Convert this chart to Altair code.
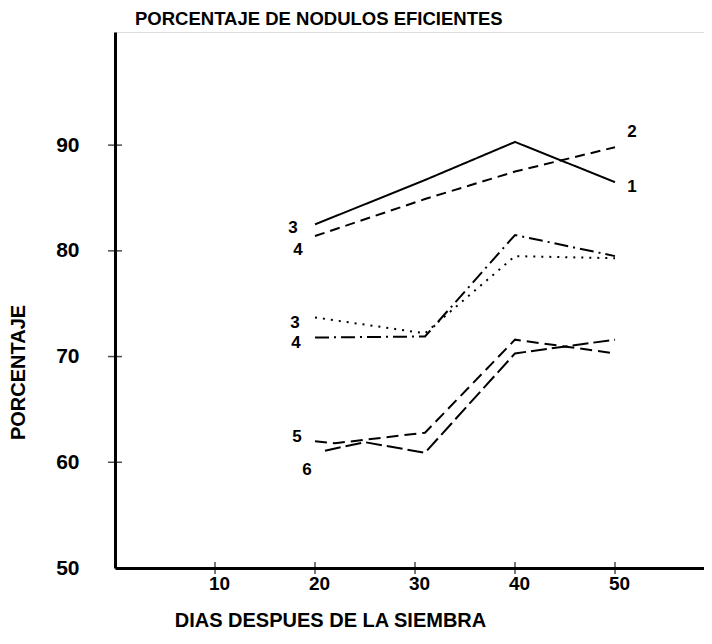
import altair as alt
import pandas as pd

# ---- data ----
series_names = ["s1", "s2", "s3", "s4", "s5", "s6"]
days_1 = [20, 31, 40, 50]
vals_1 = [82.5, 86.7, 90.3, 86.5]
days_2 = [20, 31, 40, 50]
vals_2 = [81.4, 84.9, 87.5, 89.8]
days_3 = [20, 31, 40, 50]
vals_3 = [73.7, 72.2, 79.5, 79.3]
days_4 = [20, 31, 40, 50]
vals_4 = [71.8, 71.9, 81.5, 79.5]
days_5 = [20, 22, 31, 40, 50]
vals_5 = [62.0, 61.8, 62.8, 71.6, 70.3]
days_6 = [21, 25, 31, 40, 50]
vals_6 = [61.1, 61.9, 60.9, 70.3, 71.6]

label_text = ["3", "4", "2", "1", "3", "4", "5", "6"]
label_day = [17.8, 18.3, 51.7, 51.7, 18.0, 18.1, 18.2, 19.2]
label_val = [82.2, 80.1, 91.2, 86.0, 73.2, 71.3, 62.4, 59.3]

x_ticks = [10, 20, 30, 40, 50]
y_ticks = [60, 70, 80, 90]

dash_patterns = [[1, 0], [10, 6], [2, 6], [14, 5, 2, 5], [12, 6], [16, 5]]

FONT = "Liberation Sans"

rows = []
for name, ds, vs in zip(series_names,
                        [days_1, days_2, days_3, days_4, days_5, days_6],
                        [vals_1, vals_2, vals_3, vals_4, vals_5, vals_6]):
    for i, (d, v) in enumerate(zip(ds, vs)):
        rows.append({"serie": name, "dia": d, "pct": v, "ord": i})
df = pd.DataFrame(rows)

labels_df = pd.DataFrame({"t": label_text, "dia": label_day, "pct": label_val})
xt_df = pd.DataFrame({"dia": x_ticks, "pct": [50] * len(x_ticks)})
yt_df = pd.DataFrame({"dia": [0] * len(y_ticks), "pct": y_ticks})

xscale = alt.Scale(domain=[0, 58.9], nice=False, zero=False)
yscale = alt.Scale(domain=[50, 100.7], nice=False, zero=False)

xaxis = alt.Axis(values=x_ticks, ticks=False, grid=False, domainColor="black",
                 domainWidth=3, labelFont=FONT, labelFontSize=19,
                 labelFontWeight="bold", labelColor="black", labelPadding=6,
                 labelOffset=4,
                 title="DIAS DESPUES DE LA SIEMBRA", titleFont=FONT,
                 titleFontSize=20, titleFontWeight="bold", titleColor="black",
                 titleX=215, titleY=52, titleAlign="center",
                 titleBaseline="middle")
yaxis = alt.Axis(values=[50, 60, 70, 80, 90], ticks=False, grid=False,
                 domainColor="black", domainWidth=3, labelFont=FONT,
                 labelFontSize=21, labelFontWeight="bold", labelColor="black",
                 labelPadding=36, title="PORCENTAJE", titleFont=FONT,
                 titleFontSize=20, titleFontWeight="bold", titleColor="black",
                 titleAngle=270, titleX=-97, titleY=340, titleAlign="center",
                 titleBaseline="middle")

lines = alt.Chart(df).mark_line(color="black", strokeWidth=2).encode(
    x=alt.X("dia:Q", scale=xscale, axis=xaxis),
    y=alt.Y("pct:Q", scale=yscale, axis=yaxis),
    strokeDash=alt.StrokeDash("serie:N", scale=alt.Scale(domain=series_names,
                              range=dash_patterns), legend=None),
    detail="serie:N",
    order="ord:Q",
)

xt = alt.Chart(xt_df).mark_tick(orient="vertical", color="black", size=12,
                                thickness=1.5).encode(
    x=alt.X("dia:Q", scale=xscale), y=alt.Y("pct:Q", scale=yscale))
yt = alt.Chart(yt_df).mark_tick(orient="horizontal", color="black", size=14,
                                thickness=1.5).encode(
    x=alt.X("dia:Q", scale=xscale), y=alt.Y("pct:Q", scale=yscale))

labels = alt.Chart(labels_df).mark_text(font=FONT, fontSize=17,
                                        fontWeight="bold", color="black",
                                        align="center", baseline="middle").encode(
    x=alt.X("dia:Q", scale=xscale), y=alt.Y("pct:Q", scale=yscale), text="t:N")

chart = alt.layer(lines, xt, yt, labels).properties(
    width=589, height=536,
    autosize=alt.AutoSizeParams(type="none"),
    padding={"left": 107, "top": 24, "right": 0, "bottom": 68},
    title=alt.Title("PORCENTAJE DE NODULOS EFICIENTES", font=FONT,
                    fontSize=18.5, fontWeight="bold", color="black",
                    anchor="start", frame="group", dx=20, offset=4),
).configure_view(stroke=None).configure(background="white")

chart.save("out.html", embed_options={"renderer": "svg", "actions": False})
